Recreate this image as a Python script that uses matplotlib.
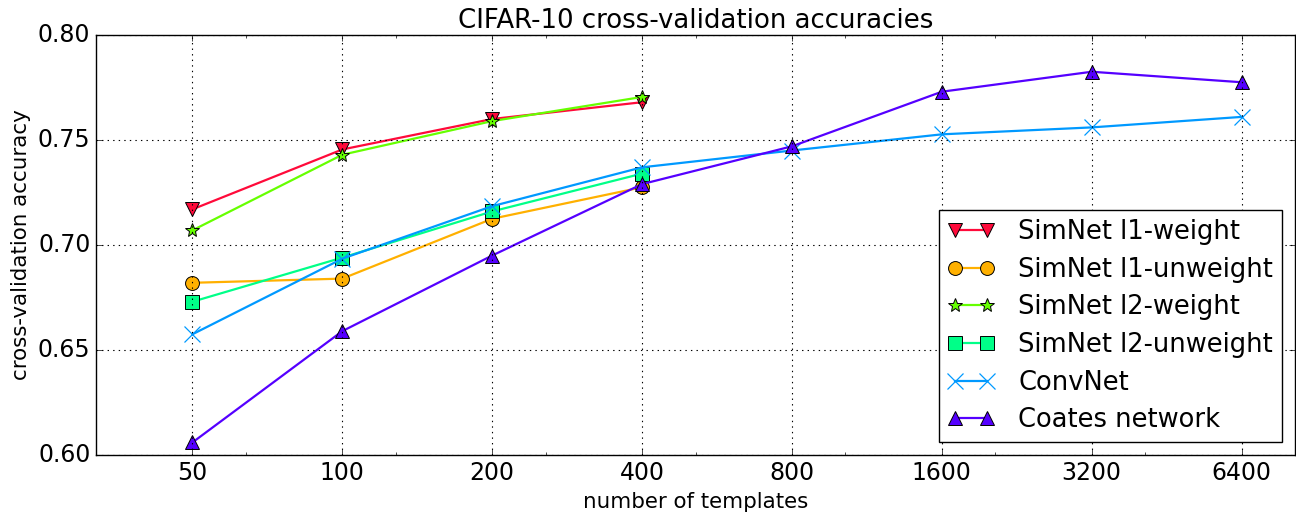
import numpy as np
import matplotlib
matplotlib.use('Agg')
import matplotlib.pyplot as plt
from matplotlib.ticker import FixedLocator, MultipleLocator, FormatStrFormatter

plt.style.use('classic')

templates = [50, 100, 200, 400, 800, 1600, 3200, 6400]

l1_weight = [0.717, 0.7455, 0.760, 0.768]
l1_unweight = [0.682, 0.684, 0.7125, 0.7275]
l2_weight = [0.707, 0.743, 0.759, 0.7705]
l2_unweight = [0.673, 0.694, 0.716, 0.734]
convnet = [0.6575, 0.6935, 0.7185, 0.737, 0.745, 0.7527, 0.756, 0.761]
coates = [0.606, 0.659, 0.695, 0.729, 0.747, 0.773, 0.7825, 0.7775]

series = [
    ('SimNet l1-weight', l1_weight, '#ff0a3a', 'v'),
    ('SimNet l1-unweight', l1_unweight, '#ffb000', 'o'),
    ('SimNet l2-weight', l2_weight, '#66ff00', '*'),
    ('SimNet l2-unweight', l2_unweight, '#00ff88', 's'),
    ('ConvNet', convnet, '#0099ff', 'x'),
    ('Coates network', coates, '#5500ff', '^'),
]

fig = plt.figure(figsize=(12.96, 5.19), dpi=100, facecolor='white')
ax = fig.add_axes([96 / 1296, 64 / 519, 1199 / 1296, 420 / 519])
ax.set_facecolor('white')

x_all = np.log2(templates)
for label, vals, color, marker in series:
    x = x_all[:len(vals)]
    if marker == 'x':
        ax.plot(x, vals, color=color, marker=marker, markersize=11, lw=1.6,
                mec=color, mew=0.9, label=label)
    else:
        ax.plot(x, vals, color=color, marker=marker, markersize=10, lw=1.6,
                mec='k', mew=0.7, label=label)

ax.set_xlim(5, 13)
ax.set_ylim(0.60, 0.80)
ax.xaxis.set_major_locator(FixedLocator(x_all))
ax.set_xticklabels([str(t) for t in templates])
ax.xaxis.set_minor_locator(MultipleLocator(1))
ax.yaxis.set_major_locator(MultipleLocator(0.05))
ax.yaxis.set_major_formatter(FormatStrFormatter('%.2f'))
ax.tick_params(labelsize=17)
ax.grid(True, which='major', color='k', linestyle=':', linewidth=0.8)

ax.set_title('CIFAR-10 cross-validation accuracies', fontsize=18.7)
ax.set_xlabel('number of templates', fontsize=15.4)
ax.set_ylabel('cross-validation accuracy', fontsize=15.4)

ax.legend(loc='lower right', fontsize=18.5, numpoints=2, handlelength=1.85,
          handletextpad=0.9, labelspacing=0.45, borderaxespad=0.5,
          borderpad=0.35, fancybox=False)

fig.savefig('out.png', dpi=100, facecolor='white')
